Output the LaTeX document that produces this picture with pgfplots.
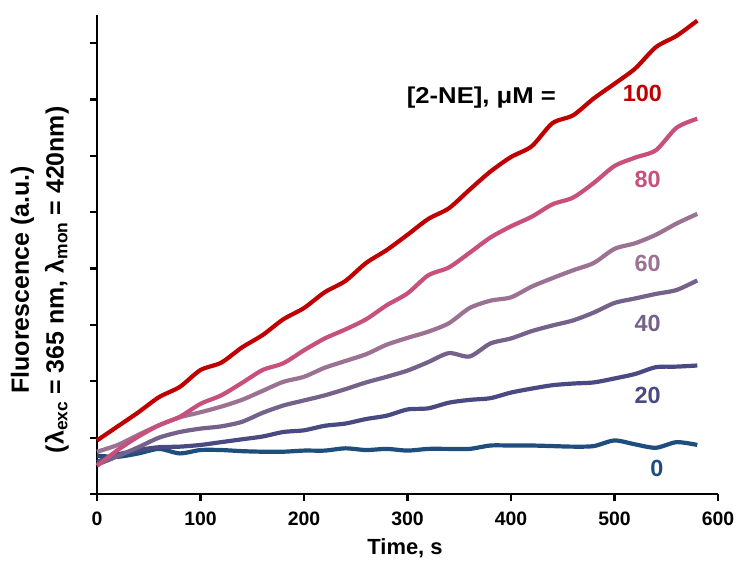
\documentclass[border=0pt]{standalone}
\usepackage{pgfplots}
\usepackage{pgfplotstable}
\pgfplotsset{compat=1.18}
\usepackage{fontspec}
\setmainfont{Liberation Sans}
\newfontfamily\widefont{Liberation Sans}[FakeStretch=1.12]

\definecolor{c0}{HTML}{1F4E7E}
\definecolor{c20}{HTML}{4A4A82}
\definecolor{c40}{HTML}{74628A}
\definecolor{c60}{HTML}{9C7292}
\definecolor{c80}{HTML}{C8507C}
\definecolor{c100}{HTML}{C00000}

% fluorescence vs time, one column per [2-NE] in uM
\pgfplotstableread{
t    c0    c20   c40   c60   c80   c100
0    0.68  0.57  0.52  0.75  0.50  0.95
20   0.66  0.70  0.67  0.87  0.78  1.20
40   0.72  0.78  0.83  1.05  1.02  1.45
60   0.80  0.83  1.00  1.22  1.22  1.72
80   0.72  0.84  1.10  1.36  1.37  1.90
100  0.78  0.87  1.16  1.45  1.60  2.20
120  0.78  0.92  1.20  1.55  1.75  2.33
140  0.76  0.97  1.28  1.67  1.97  2.60
160  0.75  1.02  1.44  1.83  2.20  2.82
180  0.75  1.10  1.57  1.99  2.32  3.10
200  0.77  1.13  1.66  2.08  2.55  3.30
220  0.77  1.21  1.75  2.24  2.76  3.58
240  0.81  1.25  1.86  2.36  2.92  3.78
260  0.78  1.33  1.98  2.48  3.10  4.10
280  0.80  1.39  2.08  2.65  3.35  4.33
300  0.77  1.50  2.19  2.77  3.56  4.60
320  0.80  1.52  2.34  2.88  3.88  4.88
340  0.80  1.62  2.50  3.03  4.02  5.07
360  0.80  1.67  2.44  3.30  4.28  5.40
380  0.86  1.70  2.67  3.43  4.55  5.72
400  0.86  1.80  2.76  3.49  4.75  5.98
420  0.86  1.87  2.89  3.68  4.92  6.17
440  0.85  1.93  2.99  3.83  5.14  6.58
460  0.84  1.96  3.08  3.97  5.26  6.72
480  0.85  1.98  3.22  4.10  5.52  7.02
500  0.95  2.05  3.39  4.35  5.82  7.28
520  0.88  2.13  3.47  4.45  5.97  7.55
540  0.82  2.25  3.55  4.60  6.10  7.93
560  0.92  2.26  3.62  4.80  6.50  8.13
580  0.87  2.28  3.79  4.97  6.66  8.40
}\datatable

\begin{document}
\begin{tikzpicture}
\begin{axis}[
  name=ax,
  scale only axis,
  width=621bp, height=479bp,
  xmin=0, xmax=600, ymin=0, ymax=8.5,
  axis x line*=bottom, axis y line*=left,
  axis line style={line width=2.2bp, -},
  xtick={0,100,...,600},
  ytick={0,1,...,8},
  yticklabels={},
  tick align=outside,
  major tick length=7bp,
  every tick/.style={black, line width=2.2bp},
  /pgf/number format/assume math mode=true,
  xticklabel style={font=\fontsize{19.5}{19.5}\selectfont\bfseries, yshift=-7bp},
  xlabel={Time, s},
  xlabel style={font=\fontsize{22}{22}\selectfont\bfseries, at={(axis description cs:0.496,-0.113)}, anchor=center},
  ylabel={Fluorescence (a.u.)\\(λ\textsubscript{exc} = 365 nm,  λ\textsubscript{mon} = 420nm)},
  ylabel style={font=\fontsize{25}{35}\selectfont\bfseries, align=center, at={(axis description cs:-0.092,0.447)}, anchor=center},
  every axis plot/.append style={line width=4.2bp, smooth, tension=0.45, no markers},
  clip=false,
]
\addplot[c0] table[x=t, y=c0] {\datatable};
\addplot[c20] table[x=t, y=c20] {\datatable};
\addplot[c40] table[x=t, y=c40] {\datatable};
\addplot[c60] table[x=t, y=c60] {\datatable};
\addplot[c80] table[x=t, y=c80] {\datatable};
\addplot[c100] table[x=t, y=c100] {\datatable};

\node[font=\fontsize{23}{23}\selectfont\widefont\bfseries, anchor=west] at (axis cs:296,7.03) {[2-NE], μM =};
\begin{scope}[font=\fontsize{23.5}{23.5}\selectfont\bfseries]
\node[text=c100] at (axis cs:527,7.10) {100};
\node[text=c80] at (axis cs:532,5.59) {80};
\node[text=c60] at (axis cs:532,4.09) {60};
\node[text=c40] at (axis cs:532,3.03) {40};
\node[text=c20] at (axis cs:532,1.75) {20};
\node[text=c0] at (axis cs:541,0.46) {0};
\end{scope}
\end{axis}
\path[use as bounding box] ([xshift=-97bp,yshift=-67bp]ax.south west) rectangle ([xshift=22bp,yshift=15bp]ax.north east);
\end{tikzpicture}
\end{document}
